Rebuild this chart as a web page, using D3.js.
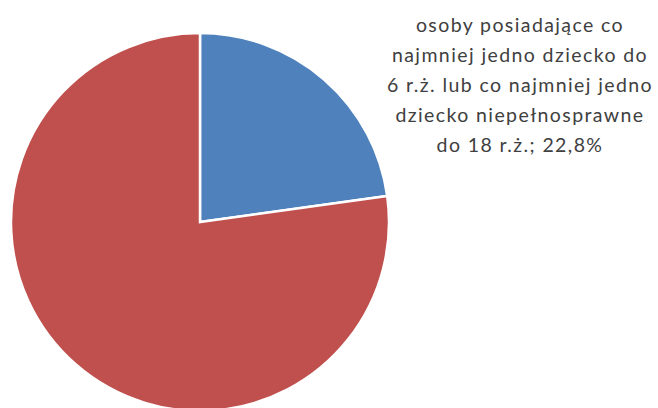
<html>
  <head>
    <meta charset="utf-8">
    <script src="https://d3js.org/d3.v7.min.js"></script>
    <style>
      body { margin: 0; background: #fff; }
    </style>
  </head>
  <body>
    <div id="chart"></div>
  </body>

  <script>
    const W = 658, H = 408

    // data
    const categories = ['osoby posiadające co najmniej jedno dziecko do 6 r.ż. lub co najmniej jedno dziecko niepełnosprawne do 18 r.ż.', 'pozostali']
    const values = [22.8, 77.2]
    const colors = ['#4F81BD', '#C0504D']
    // label lines for the first slice (as wrapped in the chart)
    const labelLines = ['osoby posiadające co', 'najmniej jedno dziecko do', '6 r.ż. lub co najmniej jedno', 'dziecko niepełnosprawne', 'do 18 r.ż.; 22,8%']

    const cx = 200, cy = 222, radius = 189

    const svg = d3.select('#chart')
      .append('svg')
        .attr('width', W)
        .attr('height', H)

    const pie = d3.pie().sort(null).value(d => d)
    const arc = d3.arc().innerRadius(0).outerRadius(radius)

    const g = svg.append('g')
      .attr('transform', `translate(${cx}, ${cy})`)

    g.selectAll('path')
      .data(pie(values))
      .join('path')
        .attr('d', arc)
        .attr('fill', (d, i) => colors[i])
        .attr('stroke', '#fff')
        .attr('stroke-width', 2.5)
        .attr('stroke-linejoin', 'miter')

    // label of the blue slice, top right
    const label = svg.append('text')
      .attr('text-anchor', 'middle')
      .attr('font-family', 'Lato, "Open Sans", sans-serif')
      .attr('font-size', '19.5px')
      .attr('letter-spacing', '1.4px')
      .attr('fill', '#404040')

    label.selectAll('tspan')
      .data(labelLines)
      .join('tspan')
        .attr('x', 520)
        .attr('y', (d, i) => 32 + i * 30)
        .text(d => d)
  </script>
</html>
